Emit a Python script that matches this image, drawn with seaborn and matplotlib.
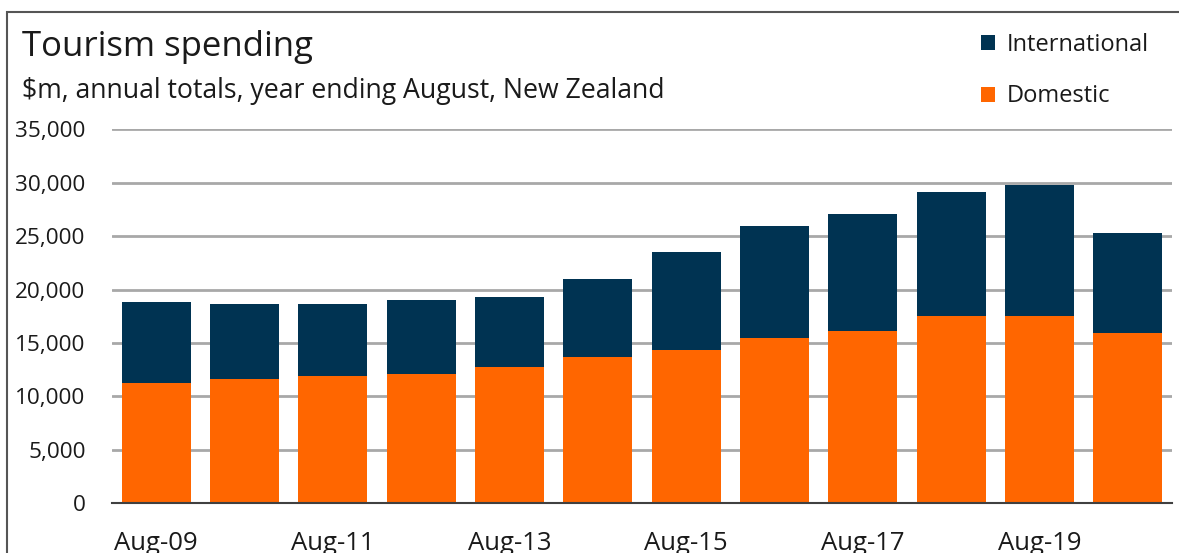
import matplotlib
matplotlib.use("Agg")
import matplotlib.pyplot as plt
import seaborn as sns
import pandas as pd
from matplotlib.patches import Patch, Rectangle
from matplotlib.ticker import FixedLocator, StrMethodFormatter

# Year ending August, $m
years = ["Aug-09", "Aug-10", "Aug-11", "Aug-12", "Aug-13", "Aug-14",
         "Aug-15", "Aug-16", "Aug-17", "Aug-18", "Aug-19", "Aug-20"]
domestic = [11230, 11660, 11880, 12100, 12760, 13690,
            14380, 15470, 16150, 17500, 17500, 15940]
international = [7580, 6960, 6740, 6960, 6520, 7330,
                 9140, 10480, 10920, 11630, 12290, 9330]
y_ticks = [0, 5000, 10000, 15000, 20000, 25000, 30000, 35000]

title = "Tourism spending"
subtitle = "$m, annual totals, year ending August, New Zealand"

NAVY = "#003352"
ORANGE = "#ff6600"
TEXT = "#1a1a1a"

df = pd.DataFrame({"year": years, "domestic": domestic, "international": international})
df["total"] = df["domestic"] + df["international"]

sns.set_style("white")
plt.rcParams["font.family"] = ["Open Sans", "DejaVu Sans"]

fig = plt.figure(figsize=(11.79, 5.53), dpi=100)
ax = fig.add_axes([112 / 1179, 1 - 503.3 / 553, (1172 - 112) / 1179, (503.3 - 129.3) / 553])

# Stacked bars: full total in navy, domestic share overlaid in orange
bar_kw = dict(saturation=1, width=0.78, ax=ax, zorder=3, linewidth=0, edgecolor="none")
sns.barplot(data=df, x="year", y="total", color=NAVY, **bar_kw)
sns.barplot(data=df, x="year", y="domestic", color=ORANGE, **bar_kw)

ax.set_xlim(-0.5, len(years) - 0.5)
ax.set_ylim(y_ticks[0], y_ticks[-1])
ax.set_xlabel("")
ax.set_ylabel("")

ax.yaxis.set_major_locator(FixedLocator(y_ticks))
ax.yaxis.set_major_formatter(StrMethodFormatter("{x:,.0f}"))
ax.grid(axis="y", color="#a8a8a8", linewidth=2, zorder=0)
ax.grid(axis="x", visible=False)

label_pos = list(range(0, len(years), 2))
ax.set_xticks(label_pos)
ax.set_xticklabels([years[i] for i in label_pos])
ax.set_xticks([i - 0.5 for i in range(0, len(years) + 1, 2)], minor=True)
ax.tick_params(axis="x", which="major", length=0, pad=20, labelsize=18.5, labelcolor=TEXT)
ax.tick_params(axis="x", which="minor", length=6, width=1.5, color="#404040", direction="out")
ax.tick_params(axis="y", length=0, pad=19, labelsize=16.2, labelcolor=TEXT)

for side in ("top", "right", "left"):
    ax.spines[side].set_visible(False)
ax.spines["bottom"].set_color("#404040")
ax.spines["bottom"].set_linewidth(1.5)
ax.spines["bottom"].set_zorder(4)

fig.text(22 / 1179, 1 - 47 / 553, title, fontsize=25, color=TEXT, va="center", ha="left")
fig.text(22 / 1179, 1 - 91 / 553, subtitle, fontsize=19.2, color=TEXT, va="center", ha="left")

handles = [Patch(facecolor=NAVY, edgecolor="none", label="International"),
           Patch(facecolor=ORANGE, edgecolor="none", label="Domestic")]
fig.legend(handles=handles, loc="upper left", bbox_to_anchor=(960 / 1179, 1 - 12 / 553),
           frameon=False, fontsize=17, handlelength=0.6, handleheight=0.6,
           handletextpad=0.5, labelspacing=1.15, labelcolor=TEXT)

# Outer frame
fig.add_artist(Rectangle((7 / 1179, -0.2), 1.2, 1.2 - 12 / 553, transform=fig.transFigure,
                         fill=False, edgecolor="#555555", linewidth=1.5))

fig.savefig("out.png", dpi=100)
